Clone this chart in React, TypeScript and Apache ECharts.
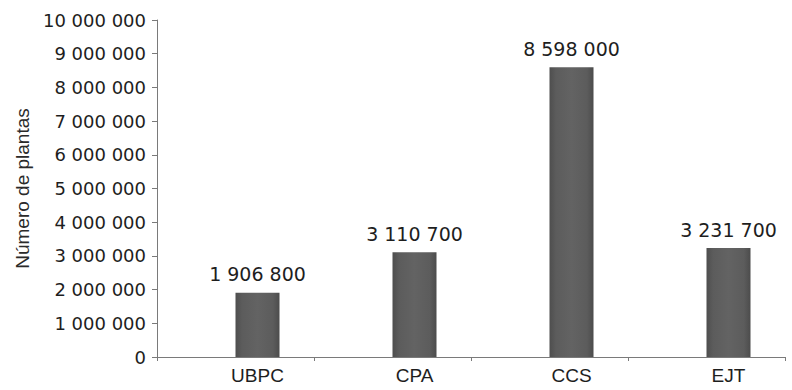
import React, { useEffect, useRef } from "react";
import * as echarts from "echarts";

const categories = ["UBPC", "CPA", "CCS", "EJT"];
const plantas = [1906800, 3110700, 8598000, 3231700];
const yTicks = [0, 1000000, 2000000, 3000000, 4000000, 5000000, 6000000, 7000000, 8000000, 9000000, 10000000];

const fmt = (v: number) => String(Math.round(v)).replace(/\B(?=(\d{3})+(?!\d))/g, " ");

export default function App() {
  const ref = useRef<HTMLDivElement>(null);

  useEffect(() => {
    if (!ref.current) return;
    const chart = echarts.init(ref.current, null, { renderer: "svg" });
    const wide = "'DejaVu Sans', Verdana, sans-serif";
    const sans = "'Liberation Sans', Arial, sans-serif";
    const barFill = new echarts.graphic.LinearGradient(0, 0, 1, 0, [
      { offset: 0, color: "#4e4e4e" },
      { offset: 0.15, color: "#5c5c5c" },
      { offset: 0.5, color: "#636363" },
      { offset: 0.85, color: "#5c5c5c" },
      { offset: 1, color: "#4c4c4c" },
    ]);
    chart.setOption({
      animation: false,
      backgroundColor: "#ffffff",
      grid: { left: 157, right: 7, top: 20, bottom: 33, containLabel: false },
      xAxis: {
        type: "category",
        data: categories,
        axisLine: { lineStyle: { color: "#7a7a7a", width: 1 } },
        axisTick: { show: true, length: 4, lineStyle: { color: "#7a7a7a" } },
        axisLabel: {
          margin: 9,
          color: "#1e1e1e",
          fontSize: 19,
          lineHeight: 19,
          fontFamily: sans,
          padding: [0, 0, 0, 44],
        },
      },
      yAxis: {
        type: "value",
        min: yTicks[0],
        max: yTicks[yTicks.length - 1],
        interval: 1000000,
        name: "Número de plantas",
        nameLocation: "middle",
        nameGap: 124,
        nameRotate: 90,
        nameTextStyle: {
          color: "#2a2a2a",
          fontSize: 19,
          fontFamily: sans,
        },
        axisLine: { show: true, lineStyle: { color: "#7a7a7a", width: 1 } },
        axisTick: { show: true, length: 5, lineStyle: { color: "#7a7a7a" } },
        splitLine: { show: false },
        axisLabel: {
          margin: 11,
          color: "#1e1e1e",
          fontSize: 18,
          fontFamily: wide,
          formatter: (v: number) => fmt(v),
        },
      },
      series: [
        {
          type: "bar",
          data: categories.map(() => null),
          barWidth: 44,
          barGap: "0%",
          itemStyle: { color: "transparent" },
        },
        {
          type: "bar",
          data: plantas,
          barWidth: 44,
          barGap: "0%",
          itemStyle: { color: barFill },
          label: {
            show: true,
            position: "top",
            distance: 9,
            color: "#1e1e1e",
            fontSize: 19,
            fontFamily: wide,
            formatter: (p: any) => fmt(p.value),
          },
        },
      ],
    });
    return () => chart.dispose();
  }, []);

  return (
    <div
      ref={ref}
      style={{ position: "fixed", left: 0, top: 0, width: 792, height: 390 }}
    />
  );
}
